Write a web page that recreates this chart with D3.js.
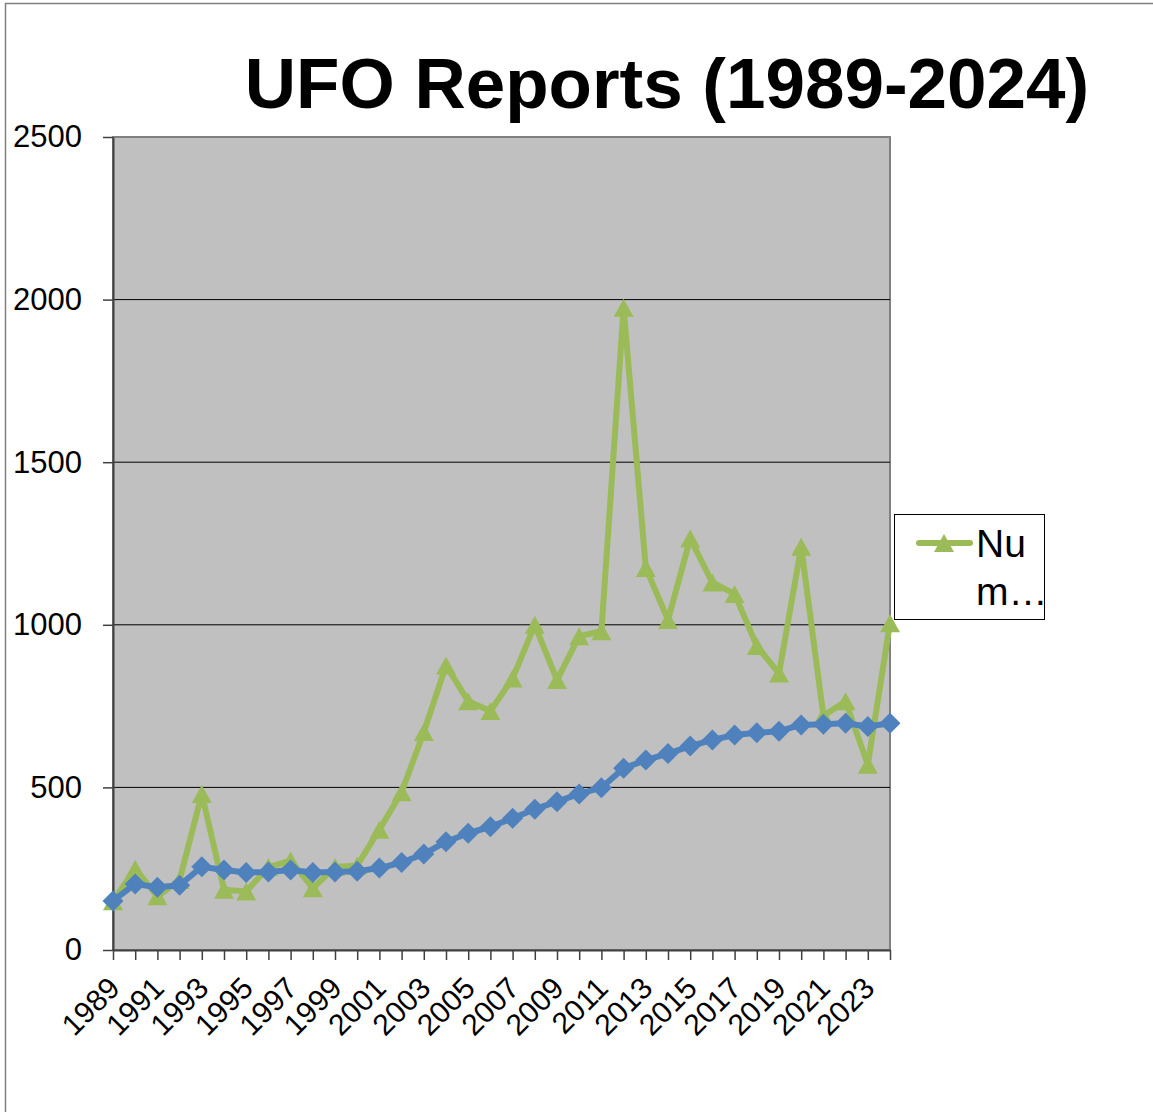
<!DOCTYPE html>
<html>
<head>
<meta charset="utf-8">
<script src="https://cdn.jsdelivr.net/npm/d3@7"></script>
<style>
  html, body { margin: 0; padding: 0; background: #ffffff; }
  svg { display: block; font-family: "Liberation Sans", Arial, sans-serif; }
</style>
</head>
<body>
<svg id="chart" width="1153" height="1112"></svg>
<script>
// ---- data ----
const title = "UFO Reports (1989-2024)";
const years = [1989,1990,1991,1992,1993,1994,1995,1996,1997,1998,1999,2000,
               2001,2002,2003,2004,2005,2006,2007,2008,2009,2010,2011,2012,
               2013,2014,2015,2016,2017,2018,2019,2020,2021,2022,2023,2024];
const reports = [150,250,165,215,480,185,180,255,275,190,255,260,
                 370,485,670,875,765,735,835,1000,830,965,980,1975,
                 1175,1015,1265,1130,1095,935,850,1240,720,765,570,1005];
const trend = [151,203,193,199,256,246,238,240,246,238,240,242,
               252,269,295,333,359,379,405,433,456,480,499,559,
               584,604,627,646,661,668,673,692,694,697,687,697];
const yTicks = [0,500,1000,1500,2000,2500];
const xLabelYears = [1989,1991,1993,1995,1997,1999,2001,2003,2005,2007,2009,
                     2011,2013,2015,2017,2019,2021,2023];
const legendLines = ["Nu", "m\u2026"];

// ---- layout ----
const svg = d3.select("#chart");
const L = 113, R = 890, T = 137, B = 950;
const green = "#9BBB59", blue = "#4F81BD";
const FONT = "Liberation Sans, Arial, sans-serif";

const x = d3.scalePoint().domain(years).range([L, R]);
const y = d3.scaleLinear().domain([0, 2500]).range([B, T]);

// outer chart border
svg.append("rect").attr("x", 5.5).attr("y", 3.5).attr("width", 1300).attr("height", 1300)
  .attr("fill", "#fff").attr("stroke", "#808080").attr("stroke-width", 1.5);

// title
svg.append("text").attr("x", 667).attr("y", 108).attr("text-anchor", "middle")
  .attr("font-size", 71).attr("font-weight", "bold").attr("fill", "#000").text(title);

// plot area
svg.append("rect").attr("x", L).attr("y", T).attr("width", R - L).attr("height", B - T)
  .attr("fill", "#C0C0C0").attr("stroke", "#808080").attr("stroke-width", 2);

// gridlines
svg.append("g").selectAll("line").data(yTicks.filter(d => d > 0 && d < 2500)).join("line")
  .attr("x1", L).attr("x2", R).attr("y1", d => y(d)).attr("y2", d => y(d))
  .attr("stroke", "#000").attr("stroke-width", 1);

// y axis
const yAxis = svg.append("g").attr("transform", `translate(${L},0)`)
  .call(d3.axisLeft(y).tickValues(yTicks).tickFormat(d3.format("d"))
    .tickSize(10).tickPadding(21).tickSizeOuter(0));
yAxis.attr("font-size", 31).attr("font-family", FONT);
yAxis.select(".domain").attr("stroke", "#404040").attr("stroke-width", 2);
yAxis.selectAll(".tick line").attr("stroke", "#404040").attr("stroke-width", 1.5);
yAxis.selectAll(".tick text").attr("font-size", 31).attr("fill", "#000");

// x axis
const xAxis = svg.append("g").attr("transform", `translate(0,${B})`)
  .call(d3.axisBottom(x).tickSize(10).tickSizeOuter(0)
    .tickFormat(d => xLabelYears.includes(d) ? String(d) : ""));
xAxis.attr("font-size", 30).attr("font-family", FONT);
xAxis.select(".domain").attr("stroke", "#404040").attr("stroke-width", 2);
xAxis.selectAll(".tick line").attr("stroke", "#404040").attr("stroke-width", 1.5);
xAxis.selectAll(".tick text")
  .attr("font-size", 30).attr("fill", "#000")
  .attr("text-anchor", "end")
  .attr("transform", "translate(8,40) rotate(-45)")
  .attr("y", 0).attr("dy", 0).attr("x", 0);

// lines
const line = d3.line().x((d, i) => x(years[i])).y(d => y(d));

svg.append("path").datum(reports).attr("d", line)
  .attr("fill", "none").attr("stroke", green).attr("stroke-width", 6)
  .attr("stroke-linejoin", "round").attr("stroke-linecap", "round");

const tri = "M0,-9L10,9L-10,9Z";
svg.append("g").selectAll("path").data(reports).join("path")
  .attr("d", tri).attr("fill", green)
  .attr("transform", (d, i) => `translate(${x(years[i])},${y(d)})`);

svg.append("path").datum(trend).attr("d", line)
  .attr("fill", "none").attr("stroke", blue).attr("stroke-width", 6)
  .attr("stroke-linejoin", "round").attr("stroke-linecap", "round");

const dia = "M0,-10.5L10.5,0L0,10.5L-10.5,0Z";
svg.append("g").selectAll("path").data(trend).join("path")
  .attr("d", dia).attr("fill", blue)
  .attr("transform", (d, i) => `translate(${x(years[i])},${y(d)})`);

// legend
const lg = svg.append("g");
lg.append("rect").attr("x", 894.5).attr("y", 514.5).attr("width", 150).attr("height", 105)
  .attr("fill", "#fff").attr("stroke", "#000").attr("stroke-width", 1);
lg.append("line").attr("x1", 919).attr("x2", 970).attr("y1", 543).attr("y2", 543)
  .attr("stroke", green).attr("stroke-width", 6).attr("stroke-linecap", "round");
lg.append("path").attr("d", tri).attr("fill", green).attr("transform", "translate(944,543)");
lg.selectAll("text").data(legendLines).join("text")
  .attr("x", 976).attr("y", (d, i) => 557 + i * 48)
  .attr("font-size", 39).attr("fill", "#000").text(d => d);
</script>
</body>
</html>
